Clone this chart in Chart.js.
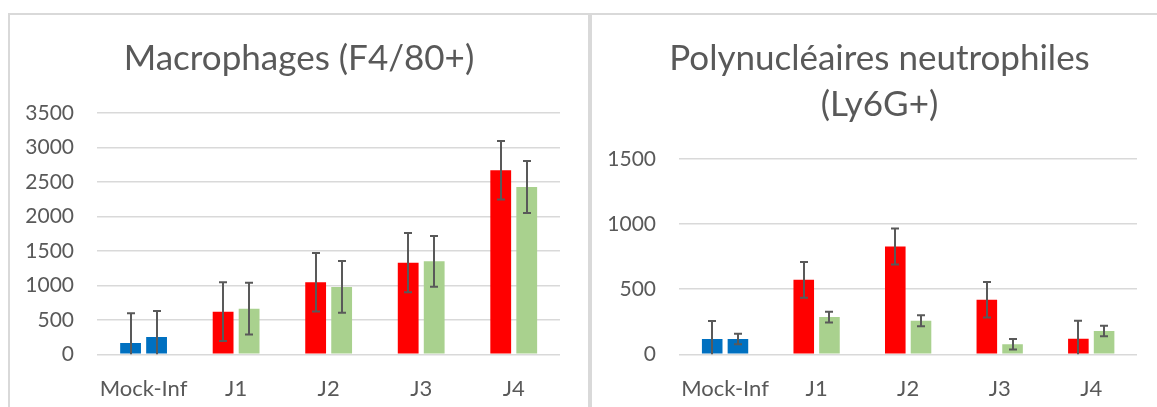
<!DOCTYPE html>
<html>
<head>
<meta charset="utf-8">
<script src="https://cdn.jsdelivr.net/npm/chart.js@4.4.1/dist/chart.umd.min.js"></script>
<style>
  html, body { margin: 0; padding: 0; background: #fff; }
  body { width: 1157px; height: 407px; overflow: hidden; position: relative; }
  .panel { position: absolute; top: 13px; height: 420px; box-sizing: border-box; border: 2px solid #d9d9d9; border-bottom: none; }
  #panelLeft { left: 8px; width: 582px; }
  #panelRight { left: 590px; width: 600px; border-right: none; }
  canvas { position: absolute; top: 15px; }
  #macroChart { left: 10px; }
  #neutroChart { left: 592px; }
</style>
</head>
<body>
<div class="panel" id="panelLeft"></div>
<div class="panel" id="panelRight"></div>
<canvas id="macroChart" width="578" height="392"></canvas>
<canvas id="neutroChart" width="575" height="392"></canvas>
<script>
const categories = ['Mock-Inf', 'J1', 'J2', 'J3', 'J4'];

// Macrophages (F4/80+)
const macroSerie1 = [164, 618, 1044, 1329, 2669];
const macroErr1 = [430, 425, 425, 430, 425];
const macroSerie2 = [251, 661, 976, 1348, 2427];
const macroErr2 = [377, 375, 375, 368, 377];
const macroTicks = [0, 500, 1000, 1500, 2000, 2500, 3000, 3500];

// Polynucléaires neutrophiles (Ly6G+)
const neutroSerie1 = [117, 572, 828, 419, 120];
const neutroErr1 = [138, 137, 138, 137, 138];
const neutroSerie2 = [117, 286, 258, 77, 179];
const neutroErr2 = [40, 41, 42, 41, 41];
const neutroTicks = [0, 500, 1000, 1500];

const BLUE = '#0070c0';
const RED = '#ff0000';
const GREEN = '#a9d18e';
const TEXT = '#595959';
const GRID = '#d9d9d9';
const FONT = 'Lato, "Open Sans", sans-serif';

// mock column is blue, infected days are red / green
const colors1 = categories.map((c, i) => (i === 0 ? BLUE : RED));
const colors2 = categories.map((c, i) => (i === 0 ? BLUE : GREEN));

// draws +/- error whiskers on top of each bar, clipped to the plot area
const errorBars = {
  id: 'errorBars',
  afterDatasetsDraw(chart) {
    const { ctx, chartArea, scales } = chart;
    const y = scales.y;
    ctx.save();
    ctx.beginPath();
    ctx.rect(chartArea.left, chartArea.top, chartArea.right - chartArea.left, chartArea.bottom - chartArea.top);
    ctx.clip();
    ctx.strokeStyle = TEXT;
    ctx.lineWidth = 2;
    chart.data.datasets.forEach((ds, i) => {
      const meta = chart.getDatasetMeta(i);
      meta.data.forEach((bar, j) => {
        const v = ds.data[j];
        const e = ds.errors[j];
        const x = Math.round(bar.x);
        const top = y.getPixelForValue(v + e);
        const bot = y.getPixelForValue(v - e);
        ctx.beginPath();
        ctx.moveTo(x, top);
        ctx.lineTo(x, bot);
        ctx.moveTo(x - 4, top);
        ctx.lineTo(x + 4, top);
        ctx.moveTo(x - 4, bot);
        ctx.lineTo(x + 4, bot);
        ctx.stroke();
      });
    });
    ctx.restore();
  }
};

function makeChart(id, title, s1, e1, s2, e2, ticks, rightGap) {
  const ctx = document.getElementById(id).getContext('2d');
  return new Chart(ctx, {
    type: 'bar',
    data: {
      labels: categories,
      datasets: [
        { data: s1, errors: e1, backgroundColor: colors1, borderWidth: 0, yAxisID: 'y' },
        { data: s2, errors: e2, backgroundColor: colors2, borderWidth: 0, yAxisID: 'y' },
      ],
    },
    options: {
      responsive: false,
      animation: false,
      devicePixelRatio: 1,
      layout: { padding: 0 },
      datasets: {
        bar: { categoryPercentage: 0.562, barPercentage: 0.8 },
      },
      plugins: {
        legend: { display: false },
        tooltip: { enabled: false },
        title: {
          display: true,
          text: title,
          color: TEXT,
          font: { family: FONT, size: 35, weight: 'normal', lineHeight: 1.32 },
          padding: { top: 20.6, bottom: 31.1 },
        },
      },
      scales: {
        x: {
          grid: { display: false },
          border: { display: false },
          ticks: {
            color: TEXT,
            font: { family: FONT, size: 22 },
            padding: 13,
            autoSkip: false,
            maxRotation: 0,
            minRotation: 0,
          },
          afterFit: (s) => { s.height = 52.7; },
        },
        y: {
          min: 0,
          max: ticks[ticks.length - 1],
          afterBuildTicks: (s) => { s.ticks = ticks.map((v) => ({ value: v })); },
          grid: { color: GRID, lineWidth: 1.5, drawTicks: false },
          border: { display: false },
          ticks: {
            color: TEXT,
            font: { family: FONT, size: 21 },
            padding: 23.3,
            callback: (v) => String(v),
          },
          afterFit: (s) => { s.width = 87.3; },
        },
        // empty margin on the right so the title stays centred on the panel
        yGap: {
          position: 'right',
          grid: { display: false },
          border: { display: false },
          ticks: { display: false },
          afterFit: (s) => { s.width = rightGap; },
        },
      },
    },
    plugins: [errorBars],
  });
}

makeChart('macroChart', 'Macrophages (F4/80+)', macroSerie1, macroErr1, macroSerie2, macroErr2, macroTicks, 28);
makeChart('neutroChart', ['Polynucléaires neutrophiles', '(Ly6G+)'], neutroSerie1, neutroErr1, neutroSerie2, neutroErr2, neutroTicks, 30);
</script>
</body>
</html>
